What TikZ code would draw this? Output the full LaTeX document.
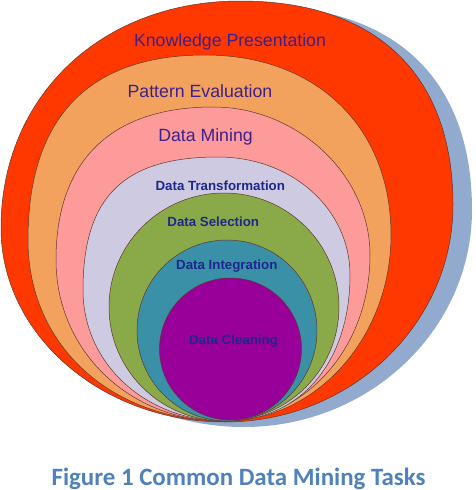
\documentclass[tikz,border=0pt]{standalone}
\usepackage{fontspec}
\setmainfont{Liberation Sans}
\newfontfamily\capfont{Carlito}
\definecolor{shadowc}{RGB}{146,170,206}
\definecolor{redc}{RGB}{255,56,0}
\definecolor{orangec}{RGB}{243,162,94}
\definecolor{pinkc}{RGB}{253,155,155}
\definecolor{lavc}{RGB}{206,202,225}
\definecolor{greenc}{RGB}{138,170,74}
\definecolor{tealc}{RGB}{58,144,166}
\definecolor{purplec}{RGB}{153,0,153}
\definecolor{edgec}{RGB}{95,55,45}
\definecolor{outtext}{RGB}{62,32,140}
\definecolor{intext}{RGB}{30,40,140}
\definecolor{captext}{RGB}{79,129,189}
\tikzset{
  ring/.style={draw=edgec, line width=0.5pt},
  bigLabel/.style={anchor=base, inner sep=0pt, text=outtext, font=\fontsize{17.7}{20}\selectfont},
  smallLabel/.style={anchor=base, inner sep=0pt, text=intext, font=\fontsize{13.3}{15}\selectfont\bfseries},
}
\begin{document}
\begin{tikzpicture}[x=1pt,y=-1pt]
\useasboundingbox (0,0) rectangle (476,490);
% shadow (red outline shifted)
\fill[shadowc, shift={(19,5)}] (240,1) .. controls (376.3,1) and (453,74.4) .. (453,205)
  .. controls (453,324.4) and (350.4,422) .. (225,422)
  .. controls (101.8,422) and (1,334.7) .. (1,228)
  .. controls (1,96.3) and (101.4,1) .. (240,1) -- cycle;
% red
\filldraw[ring, fill=redc] (240,1) .. controls (376.3,1) and (453,74.4) .. (453,205)
  .. controls (453,324.4) and (350.4,422) .. (225,422)
  .. controls (101.8,422) and (1,334.7) .. (1,228)
  .. controls (1,96.3) and (101.4,1) .. (240,1) -- cycle;
% orange
\filldraw[ring, fill=orangec] (205,55) .. controls (316.6,55) and (391,127) .. (391,235)
  .. controls (391,337.3) and (316.3,421) .. (225,421)
  .. controls (110.7,421) and (28,345) .. (28,240)
  .. controls (28,117.9) and (88.2,55) .. (205,55) -- cycle;
% pink
\filldraw[ring, fill=pinkc] (213,107) .. controls (297.8,107) and (370,175.1) .. (370,255)
  .. controls (370,348) and (304.9,421) .. (222,421)
  .. controls (129,421) and (56,350.2) .. (56,260)
  .. controls (56,160.6) and (111,107) .. (213,107) -- cycle;
% lavender
\filldraw[ring, fill=lavc] (218,157) .. controls (291.9,157) and (350,208.9) .. (350,275)
  .. controls (350,362.6) and (300,421) .. (225,421)
  .. controls (145.5,421) and (83,363.4) .. (83,290)
  .. controls (83,196.9) and (123.5,157) .. (218,157) -- cycle;
% green
\filldraw[ring, fill=greenc] (224,307) ellipse [x radius=115, y radius=114];
% teal
\filldraw[ring, fill=tealc] (227,330.5) ellipse [x radius=90, y radius=90.5];
% purple
\filldraw[ring, fill=purplec] (230.5,349) ellipse [x radius=71, y radius=71];
% labels
\node[bigLabel] (kp) at (230,46.7) {Knowledge Presentation};
\node[bigLabel] (pe) at (200,97.7) {Pattern Evaluation};
\node[bigLabel] (dm) at (205.5,141.7) {Data Mining};
\node[smallLabel] (dt) at (220.3,190) {Data Transformation};
\node[smallLabel] (ds) at (213.3,226) {Data Selection};
\node[smallLabel] (di) at (226.8,269.3) {Data Integration};
\node[smallLabel] (dc) at (233.5,344.3) {Data Cleaning};
\node[anchor=base, inner sep=0pt, text=captext, font=\capfont\bfseries\fontsize{24.9}{28}\selectfont] (cap) at (238.5,485) {Figure 1 Common Data Mining Tasks};
\end{tikzpicture}
\end{document}
